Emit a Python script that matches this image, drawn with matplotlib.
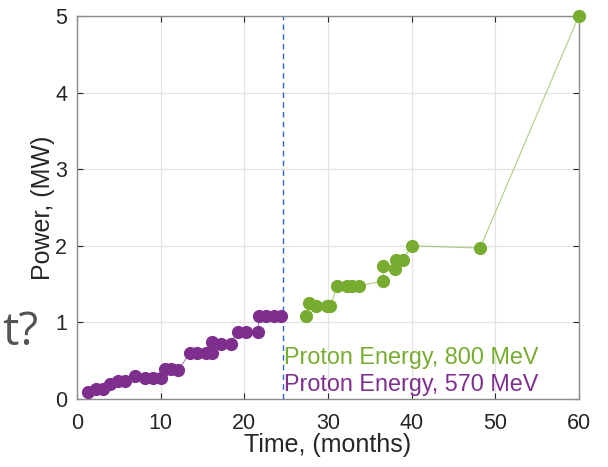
import matplotlib
matplotlib.use("Agg")
import matplotlib.pyplot as plt

# Purple series (570 MeV)
t570 = [1.3, 2.3, 3.1, 3.9, 4.9, 5.7, 6.9, 8.1, 9.1, 10.1, 10.5, 11.3, 12.1,
        13.5, 14.4, 15.4, 16.2, 16.2, 17.2, 18.4, 19.2, 20.2, 21.6, 21.8, 22.6, 23.6, 24.4]
p570 = [0.09, 0.13, 0.13, 0.19, 0.24, 0.23, 0.30, 0.27, 0.28, 0.27, 0.39, 0.39, 0.38,
        0.60, 0.60, 0.60, 0.60, 0.74, 0.72, 0.72, 0.88, 0.88, 0.88, 1.09, 1.09, 1.09, 1.09]
# Green series (800 MeV)
t800 = [27.4, 27.7, 28.6, 29.9, 30.3, 31.1, 32.3, 32.9, 33.7, 36.6, 36.6, 38.0, 38.1, 39.0,
        40.0, 48.2, 60.0]
p800 = [1.08, 1.25, 1.21, 1.21, 1.21, 1.48, 1.48, 1.48, 1.48, 1.54, 1.74, 1.70, 1.82, 1.82,
        2.0, 1.97, 5.0]
switch_t = 24.6
xticks = [0, 10, 20, 30, 40, 50, 60]
yticks = [0, 1, 2, 3, 4, 5]

purple = '#7E2F8E'
green = '#77AC30'

plt.rcParams['font.family'] = ['Liberation Sans', 'DejaVu Sans']
fig = plt.figure(figsize=(6.08, 4.67), dpi=100)
ax = fig.add_axes([0.1266, 0.1456, 0.8254, 0.8201])

ax.plot(t570, p570, '-', color=purple, lw=0.8, alpha=0.6, zorder=2)
ax.plot(t570, p570, 'o', color=purple, ms=9.5, mec='none', zorder=3, clip_on=False)
ax.plot(t800, p800, '-', color=green, lw=0.8, alpha=0.6, zorder=2)
ax.plot(t800, p800, 'o', color=green, ms=9.5, mec='none', zorder=3, clip_on=False)
ax.axvline(switch_t, color='#2a66d8', ls=(0, (4, 3)), lw=1.0, zorder=1)

ax.text(switch_t + 0.2, 0.46, 'Proton Energy, 800 MeV', color=green, fontsize=16.8,
        ha='left', va='baseline')
ax.text(switch_t + 0.2, 0.11, 'Proton Energy, 570 MeV', color=purple, fontsize=16.8,
        ha='left', va='baseline')

ax.set_xlim(0, 60)
ax.set_ylim(0, 5)
ax.set_xticks(xticks)
ax.set_yticks(yticks)
ax.grid(True, color='#e3e3e3', lw=0.9)
ax.set_axisbelow(True)
ax.tick_params(direction='in', length=4, labelsize=15.5, colors='#262626',
               top=True, right=True, labeltop=False, labelright=False)
ax.tick_params(axis='x', pad=10)
ax.tick_params(axis='y', pad=7)
for s in ax.spines.values():
    s.set_color('#8c8c8c')
    s.set_linewidth(1.0)
ax.set_xlabel('Time, (months)', fontsize=18, color='#262626', labelpad=-1)
ax.set_ylabel('Power, (MW)', fontsize=18, color='#262626', labelpad=0)

fig.text(0.003, (467 - 345) / 467, 't?', fontsize=33, color='#555555',
         family=['Open Sans', 'DejaVu Sans'], ha='left', va='baseline')

fig.savefig('out.png', dpi=100)
